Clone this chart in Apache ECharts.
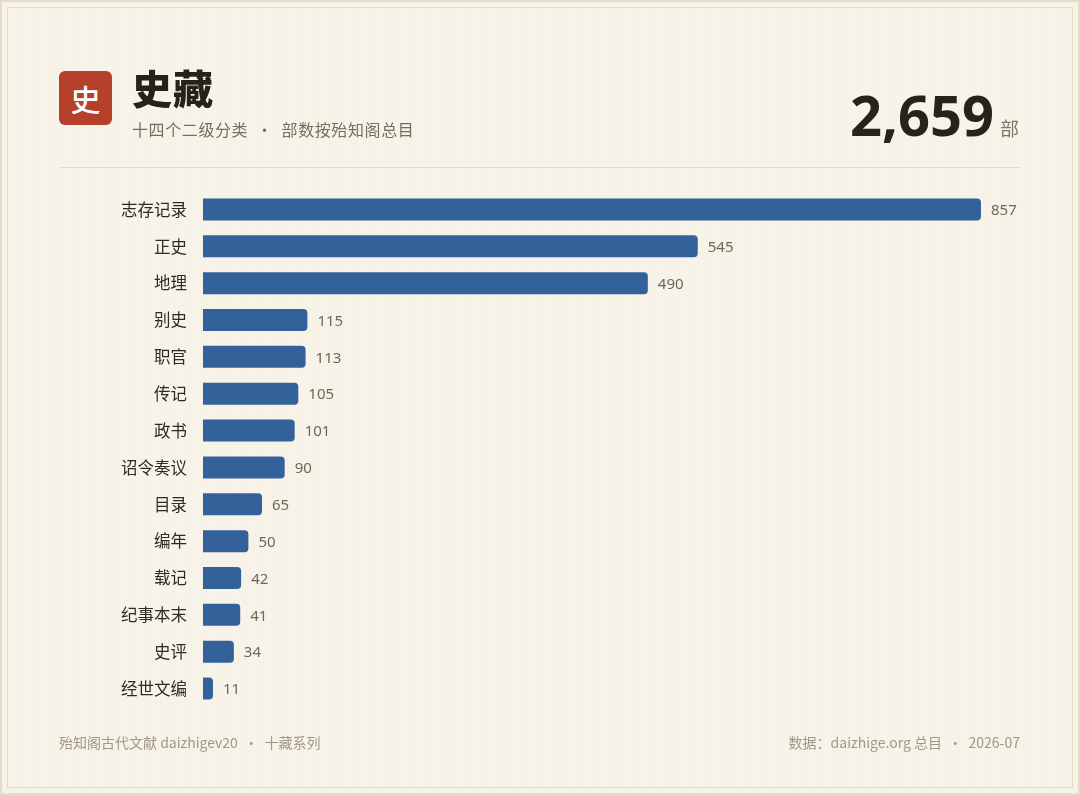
<!DOCTYPE html>
<html>
<head>
<meta charset="utf-8">
<script src="https://cdn.jsdelivr.net/npm/echarts@6/dist/echarts.min.js"></script>
<style>
  html, body { margin: 0; padding: 0; }
  body {
    width: 1080px; height: 795px; overflow: hidden;
    background: #f8f3e9;
    font-family: "Noto Sans CJK SC", "Noto Sans", sans-serif;
    position: relative;
  }
  .frame-out { position: absolute; left: 0; top: 0; width: 1076px; height: 791px; border: 2px solid #e6dcc6; }
  .frame-in { position: absolute; left: 7px; top: 7px; width: 1064px; height: 779px; border: 1px solid #e4d9c2;
    background: repeating-linear-gradient(90deg, rgba(240,232,215,0) 0px, rgba(240,232,215,0) 13px, rgba(236,227,208,0.35) 14px); }
  #main { position: absolute; left: 0; top: 0; width: 1080px; height: 795px; }
  .badge { position: absolute; left: 59px; top: 71px; width: 53px; height: 54px; border-radius: 6px; background: #b5412b;
    color: #fff; font-size: 30px; font-weight: 500; line-height: 54px; text-align: center; }
  .title { position: absolute; left: 132px; top: 58px; font-size: 40px; font-weight: 900; color: #25211b; letter-spacing: 1px; }
  .sub { position: absolute; left: 132px; top: 117px; font-size: 16px; color: #756d60; letter-spacing: 0.6px; }
  .total { position: absolute; right: 86px; top: 76px; font-size: 56px; font-weight: 700; color: #26221c; font-family: "Noto Sans", "Open Sans", sans-serif; }
  .unit { position: absolute; left: 1000px; top: 114px; font-size: 19px; color: #7f7668; }
  .rule { position: absolute; left: 59px; top: 167px; width: 961px; height: 1px; background: #e4dbc6; }
  .foot { position: absolute; top: 732px; font-size: 14px; color: #a09886; }
</style>
</head>
<body>
<div class="frame-out"></div>
<div class="frame-in"></div>
<div id="main"></div>
<div class="badge">史</div>
<div class="title">史藏</div>
<div class="sub">十四个二级分类 &nbsp;•&nbsp; 部数按殆知阁总目</div>
<div class="total">2,659</div>
<div class="unit">部</div>
<div class="rule"></div>
<div class="foot" style="left:59px">殆知阁古代文献 daizhigev20 &nbsp;•&nbsp; 十藏系列</div>
<div class="foot" style="right:60px">数据：daizhige.org 总目 &nbsp;•&nbsp; 2026-07</div>
<script>
var categories = ['志存记录', '正史', '地理', '别史', '职官', '传记', '政书', '诏令奏议', '目录', '编年', '载记', '纪事本末', '史评', '经世文编'];
var counts = [857, 545, 490, 115, 113, 105, 101, 90, 65, 50, 42, 41, 34, 11];

var chart = echarts.init(document.getElementById('main'), null, { renderer: 'canvas' });
chart.setOption({
    animation: false,
    grid: { left: 203, right: 60, top: 191, bottom: 88, containLabel: false },
    xAxis: {
        type: 'value', min: 0, max: 900,
        show: false
    },
    yAxis: {
        type: 'category',
        inverse: true,
        data: categories,
        axisLine: { show: false },
        axisTick: { show: false },
        axisLabel: {
            margin: 16, fontSize: 16.5, color: '#2e2a24',
            fontFamily: '"Noto Sans CJK SC", sans-serif'
        }
    },
    series: [{
        type: 'bar',
        data: counts,
        barWidth: 22,
        itemStyle: { color: '#33629b', borderRadius: [0, 4, 4, 0] },
        label: {
            show: true, position: 'right', distance: 10, offset: [0, 1.5],
            fontSize: 15, color: '#6f675a',
            fontFamily: '"Noto Sans", sans-serif'
        }
    }]
});
</script>
</body>
</html>
